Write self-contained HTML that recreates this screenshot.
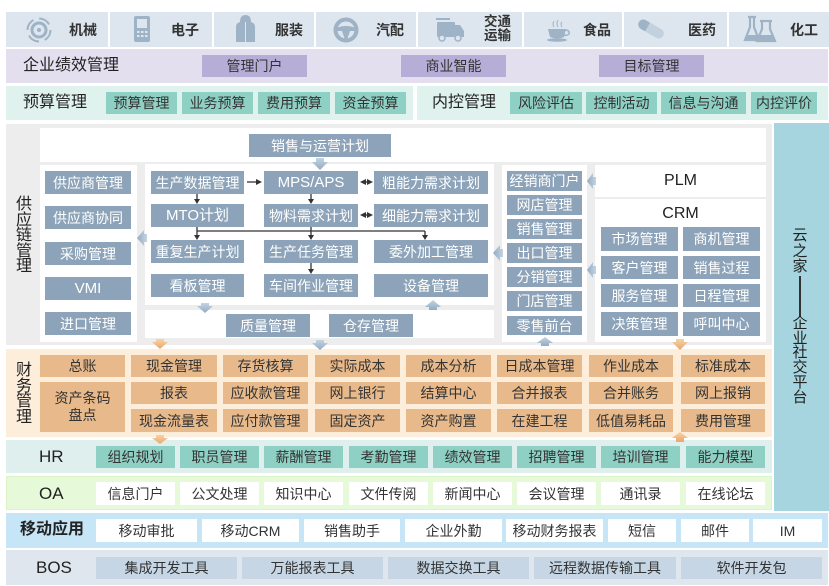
<!DOCTYPE html>
<html><head><meta charset="utf-8">
<style>
*{margin:0;padding:0;box-sizing:border-box}
html,body{width:829px;height:586px;background:#fff;overflow:hidden}
body{font-family:"Liberation Sans","Noto Sans CJK SC",sans-serif;color:#333;position:relative}
.a{position:absolute;display:flex;align-items:center;justify-content:center;white-space:nowrap;font-size:14px;line-height:1}
.r{position:absolute}
.s{background:#8ca3b9;color:#fff}
.o{background:#e8b98a;color:#333}
.t{background:#8fd0c4;color:#333}
.p{background:#b7aed7;color:#333}
.w{background:#fff;color:#333}
.g{background:#c6d6e4;color:#333}
.lb{position:absolute;font-size:16px;line-height:1;white-space:nowrap;color:#222}
.top{background:#dde6ee}
.tt{position:absolute;font-size:14px;font-weight:bold;line-height:1;color:#333;white-space:nowrap}
.v{position:absolute;font-size:16px;line-height:15.6px;text-align:center;width:18px;color:#222}
</style></head><body>

<!-- top row -->
<div class="r top" style="left:6px;top:12px;width:102px;height:35px"></div>
<div class="r top" style="left:110px;top:12px;width:102px;height:35px"></div>
<div class="r top" style="left:214px;top:12px;width:100px;height:35px"></div>
<div class="r top" style="left:316px;top:12px;width:100px;height:35px"></div>
<div class="r top" style="left:418px;top:12px;width:104px;height:35px"></div>
<div class="r top" style="left:524px;top:12px;width:98px;height:35px"></div>
<div class="r top" style="left:624px;top:12px;width:103px;height:35px"></div>
<div class="r top" style="left:729px;top:12px;width:100px;height:35px"></div>
<div class="tt" style="left:69px;top:23px">机械</div>
<div class="tt" style="left:171px;top:23px">电子</div>
<div class="tt" style="left:275px;top:23px">服装</div>
<div class="tt" style="left:376px;top:23px">汽配</div>
<div class="tt" style="left:484px;top:15px;line-height:14px;font-size:13.5px">交通<br>运输</div>
<div class="tt" style="left:583px;top:23px">食品</div>
<div class="tt" style="left:688px;top:23px">医药</div>
<div class="tt" style="left:790px;top:23px">化工</div>

<!-- row 2 -->
<div class="r" style="left:6px;top:49px;width:822px;height:34px;background:#e3dfee"></div>
<div class="lb" style="left:23px;top:58px">企业绩效管理</div>
<div class="a p" style="left:202px;top:55px;width:105px;height:22px">管理门户</div>
<div class="a p" style="left:401px;top:55px;width:105px;height:22px">商业智能</div>
<div class="a p" style="left:599px;top:55px;width:105px;height:22px">目标管理</div>

<!-- row 3 -->
<div class="r" style="left:6px;top:86px;width:407px;height:34px;background:#e0f2ee"></div>
<div class="r" style="left:417px;top:86px;width:411px;height:34px;background:#e0f2ee"></div>
<div class="lb" style="left:23px;top:95px">预算管理</div>
<div class="a t" style="left:106px;top:92px;width:71px;height:22px">预算管理</div>
<div class="a t" style="left:182px;top:92px;width:71px;height:22px">业务预算</div>
<div class="a t" style="left:258px;top:92px;width:72px;height:22px">费用预算</div>
<div class="a t" style="left:335px;top:92px;width:71px;height:22px">资金预算</div>
<div class="lb" style="left:432px;top:95px">内控管理</div>
<div class="a t" style="left:510px;top:92px;width:72px;height:22px">风险评估</div>
<div class="a t" style="left:586px;top:92px;width:71px;height:22px">控制活动</div>
<div class="a t" style="left:661px;top:92px;width:85px;height:22px">信息与沟通</div>
<div class="a t" style="left:751px;top:92px;width:66px;height:22px">内控评价</div>

<!-- supply chain -->
<div class="r" style="left:6px;top:124px;width:766px;height:221px;background:#ededed"></div>
<div class="v" style="left:15px;top:197px">供<br>应<br>链<br>管<br>理</div>
<div class="r" style="left:40px;top:128px;width:726px;height:34px;background:#fff"></div>
<div class="a s" style="left:249px;top:134px;width:142px;height:23px">销售与运营计划</div>

<div class="r" style="left:40px;top:165px;width:97px;height:177px;background:#fff"></div>
<div class="a s" style="left:45px;top:171px;width:86px;height:23px">供应商管理</div>
<div class="a s" style="left:45px;top:206px;width:86px;height:23px">供应商协同</div>
<div class="a s" style="left:45px;top:242px;width:86px;height:23px">采购管理</div>
<div class="a s" style="left:45px;top:277px;width:86px;height:23px;font-size:15px">VMI</div>
<div class="a s" style="left:45px;top:312px;width:86px;height:23px">进口管理</div>

<div class="r" style="left:145px;top:164px;width:349px;height:141px;background:#fff"></div>
<div class="a s" style="left:151px;top:171px;width:93px;height:23px">生产数据管理</div>
<div class="a s" style="left:264px;top:171px;width:94px;height:23px;font-size:15px">MPS/APS</div>
<div class="a s" style="left:374px;top:171px;width:114px;height:23px">粗能力需求计划</div>
<div class="a s" style="left:151px;top:204px;width:93px;height:23px;font-size:15px">MTO计划</div>
<div class="a s" style="left:264px;top:204px;width:94px;height:23px">物料需求计划</div>
<div class="a s" style="left:374px;top:204px;width:114px;height:23px">细能力需求计划</div>
<div class="a s" style="left:151px;top:240px;width:93px;height:23px">重复生产计划</div>
<div class="a s" style="left:264px;top:240px;width:94px;height:23px">生产任务管理</div>
<div class="a s" style="left:374px;top:240px;width:114px;height:23px">委外加工管理</div>
<div class="a s" style="left:151px;top:274px;width:93px;height:23px">看板管理</div>
<div class="a s" style="left:264px;top:274px;width:94px;height:23px">车间作业管理</div>
<div class="a s" style="left:374px;top:274px;width:114px;height:23px">设备管理</div>

<div class="r" style="left:145px;top:310px;width:349px;height:28px;background:#fff"></div>
<div class="a s" style="left:226px;top:314px;width:84px;height:23px">质量管理</div>
<div class="a s" style="left:329px;top:314px;width:84px;height:23px">仓存管理</div>

<div class="r" style="left:502px;top:165px;width:85px;height:177px;background:#fff"></div>
<div class="a s" style="left:507px;top:171px;width:75px;height:20px">经销商门户</div>
<div class="a s" style="left:507px;top:195px;width:75px;height:20px">网店管理</div>
<div class="a s" style="left:507px;top:219px;width:75px;height:20px">销售管理</div>
<div class="a s" style="left:507px;top:243px;width:75px;height:20px">出口管理</div>
<div class="a s" style="left:507px;top:267px;width:75px;height:20px">分销管理</div>
<div class="a s" style="left:507px;top:291px;width:75px;height:20px">门店管理</div>
<div class="a s" style="left:507px;top:316px;width:75px;height:19px">零售前台</div>

<div class="r" style="left:595px;top:165px;width:171px;height:32px;background:#fff"></div>
<div class="a" style="left:595px;top:165px;width:171px;height:32px;font-size:16px;color:#222">PLM</div>
<div class="r" style="left:595px;top:199px;width:171px;height:143px;background:#fff"></div>
<div class="a" style="left:595px;top:205px;width:171px;height:18px;font-size:16px;color:#222">CRM</div>
<div class="a s" style="left:601px;top:227px;width:77px;height:24px">市场管理</div>
<div class="a s" style="left:683px;top:227px;width:77px;height:24px">商机管理</div>
<div class="a s" style="left:601px;top:256px;width:77px;height:23px">客户管理</div>
<div class="a s" style="left:683px;top:256px;width:77px;height:23px">销售过程</div>
<div class="a s" style="left:601px;top:284px;width:77px;height:23px">服务管理</div>
<div class="a s" style="left:683px;top:284px;width:77px;height:23px">日程管理</div>
<div class="a s" style="left:601px;top:312px;width:77px;height:24px">决策管理</div>
<div class="a s" style="left:683px;top:312px;width:77px;height:24px">呼叫中心</div>

<!-- right panel -->
<div class="r" style="left:774px;top:123px;width:55px;height:388px;background:#a6d5df"></div>
<div class="r" style="left:792px;top:228px;width:16px;font-size:15px;line-height:15.7px;text-align:center;color:#222">云<br>之<br>家</div>
<div class="r" style="left:799px;top:276px;width:2px;height:41px;background:#333"></div>
<div class="r" style="left:792px;top:317px;width:16px;font-size:15px;line-height:14.7px;text-align:center;color:#222">企<br>业<br>社<br>交<br>平<br>台</div>

<!-- finance -->
<div class="r" style="left:6px;top:349px;width:766px;height:88px;background:#fdeedc"></div>
<div class="v" style="left:15px;top:363px">财<br>务<br>管<br>理</div>
<div class="a o" style="left:40px;top:355px;width:85px;height:22px">总账</div>
<div class="a o" style="left:40px;top:382px;width:85px;height:50px;white-space:normal;text-align:center;line-height:17px;padding:0 12px">资产条码<br>盘点</div>
<div class="a o" style="left:131px;top:355px;width:86px;height:22px">现金管理</div>
<div class="a o" style="left:131px;top:382px;width:86px;height:22px">报表</div>
<div class="a o" style="left:131px;top:409px;width:86px;height:23px">现金流量表</div>
<div class="a o" style="left:223px;top:355px;width:85px;height:22px">存货核算</div>
<div class="a o" style="left:223px;top:382px;width:85px;height:22px">应收款管理</div>
<div class="a o" style="left:223px;top:409px;width:85px;height:23px">应付款管理</div>
<div class="a o" style="left:315px;top:355px;width:85px;height:22px">实际成本</div>
<div class="a o" style="left:315px;top:382px;width:85px;height:22px">网上银行</div>
<div class="a o" style="left:315px;top:409px;width:85px;height:23px">固定资产</div>
<div class="a o" style="left:406px;top:355px;width:85px;height:22px">成本分析</div>
<div class="a o" style="left:406px;top:382px;width:85px;height:22px">结算中心</div>
<div class="a o" style="left:406px;top:409px;width:85px;height:23px">资产购置</div>
<div class="a o" style="left:497px;top:355px;width:85px;height:22px">日成本管理</div>
<div class="a o" style="left:497px;top:382px;width:85px;height:22px">合并报表</div>
<div class="a o" style="left:497px;top:409px;width:85px;height:23px">在建工程</div>
<div class="a o" style="left:589px;top:355px;width:84px;height:22px">作业成本</div>
<div class="a o" style="left:589px;top:382px;width:84px;height:22px">合并账务</div>
<div class="a o" style="left:589px;top:409px;width:84px;height:23px">低值易耗品</div>
<div class="a o" style="left:681px;top:355px;width:84px;height:22px">标准成本</div>
<div class="a o" style="left:681px;top:382px;width:84px;height:22px">网上报销</div>
<div class="a o" style="left:681px;top:409px;width:84px;height:23px">费用管理</div>

<!-- HR -->
<div class="r" style="left:6px;top:440px;width:766px;height:33px;background:#deefed"></div>
<div class="lb" style="left:39px;top:448px;font-size:17px">HR</div>
<div class="a t" style="left:96px;top:446px;width:79px;height:22px">组织规划</div>
<div class="a t" style="left:180px;top:446px;width:79px;height:22px">职员管理</div>
<div class="a t" style="left:264px;top:446px;width:79px;height:22px">薪酬管理</div>
<div class="a t" style="left:349px;top:446px;width:79px;height:22px">考勤管理</div>
<div class="a t" style="left:433px;top:446px;width:79px;height:22px">绩效管理</div>
<div class="a t" style="left:517px;top:446px;width:79px;height:22px">招聘管理</div>
<div class="a t" style="left:601px;top:446px;width:79px;height:22px">培训管理</div>
<div class="a t" style="left:686px;top:446px;width:79px;height:22px">能力模型</div>

<!-- OA -->
<div class="r" style="left:6px;top:476px;width:766px;height:34px;background:#e6f9d8;border:1px solid #dcf3c8"></div>
<div class="lb" style="left:39px;top:485px;font-size:17px">OA</div>
<div class="a w" style="left:96px;top:482px;width:79px;height:23px">信息门户</div>
<div class="a w" style="left:180px;top:482px;width:79px;height:23px">公文处理</div>
<div class="a w" style="left:264px;top:482px;width:79px;height:23px">知识中心</div>
<div class="a w" style="left:349px;top:482px;width:79px;height:23px">文件传阅</div>
<div class="a w" style="left:433px;top:482px;width:79px;height:23px">新闻中心</div>
<div class="a w" style="left:517px;top:482px;width:79px;height:23px">会议管理</div>
<div class="a w" style="left:601px;top:482px;width:79px;height:23px">通讯录</div>
<div class="a w" style="left:686px;top:482px;width:79px;height:23px">在线论坛</div>

<!-- mobile -->
<div class="r" style="left:6px;top:513px;width:822px;height:35px;background:#c6e5f6"></div>
<div class="lb" style="left:20px;top:522px;font-weight:bold">移动应用</div>
<div class="a w" style="left:96px;top:519px;width:101px;height:23px">移动审批</div>
<div class="a w" style="left:202px;top:519px;width:97px;height:23px">移动CRM</div>
<div class="a w" style="left:304px;top:519px;width:96px;height:23px">销售助手</div>
<div class="a w" style="left:405px;top:519px;width:97px;height:23px">企业外勤</div>
<div class="a w" style="left:506px;top:519px;width:97px;height:23px">移动财务报表</div>
<div class="a w" style="left:608px;top:519px;width:68px;height:23px">短信</div>
<div class="a w" style="left:681px;top:519px;width:68px;height:23px">邮件</div>
<div class="a w" style="left:753px;top:519px;width:69px;height:23px">IM</div>

<!-- BOS -->
<div class="r" style="left:6px;top:550px;width:822px;height:35px;background:#dfe6ee"></div>
<div class="lb" style="left:36px;top:559px;font-size:17px">BOS</div>
<div class="a g" style="left:96px;top:557px;width:141px;height:22px">集成开发工具</div>
<div class="a g" style="left:242px;top:557px;width:141px;height:22px">万能报表工具</div>
<div class="a g" style="left:388px;top:557px;width:141px;height:22px">数据交换工具</div>
<div class="a g" style="left:534px;top:557px;width:142px;height:22px">远程数据传输工具</div>
<div class="a g" style="left:681px;top:557px;width:141px;height:22px">软件开发包</div>

<svg class="r" style="left:0;top:0" width="829" height="586" viewBox="0 0 829 586">
<defs>
<linearGradient id="bl" x1="0" y1="0" x2="0" y2="1"><stop offset="0" stop-color="#c4d4e2"/><stop offset="1" stop-color="#93abc2"/></linearGradient>
<linearGradient id="blh" x1="0" y1="0" x2="1" y2="0"><stop offset="0" stop-color="#93abc2"/><stop offset="1" stop-color="#c4d4e2"/></linearGradient>
<linearGradient id="or" x1="0" y1="0" x2="0" y2="1"><stop offset="0" stop-color="#f6d2ab"/><stop offset="1" stop-color="#eaa866"/></linearGradient>
</defs>
<!-- icons -->
<g fill="#9fb3c6" stroke="none">
  <circle cx="39" cy="30" r="7" fill="none" stroke="#9fb3c6" stroke-width="3"/>
  <circle cx="39" cy="30" r="2"/>
  <circle cx="39" cy="30" r="11.5" fill="none" stroke="#9fb3c6" stroke-width="2" stroke-dasharray="12 6"/>
  <rect x="134" y="16" width="16" height="26" rx="2"/>
  <rect x="137" y="19" width="10" height="9" fill="#dde6ee"/>
  <g fill="#dde6ee"><rect x="137" y="31" width="2.5" height="2"/><rect x="141" y="31" width="2.5" height="2"/><rect x="145" y="31" width="2.5" height="2"/>
  <rect x="137" y="35" width="2.5" height="2"/><rect x="141" y="35" width="2.5" height="2"/><rect x="145" y="35" width="2.5" height="2"/></g>
  <path d="M236,42 L236,27 Q236,23 240,22 Q240,15 245.5,15 Q251,15 251,22 Q255,23 255,27 L255,42 Z"/>
  <path d="M245.5,22 L245.5,42" stroke="#dde6ee" stroke-width="1"/>
  <circle cx="346" cy="30" r="10.5" fill="none" stroke="#9fb3c6" stroke-width="4"/>
  <path d="M336,28 Q346,24 356,28 L356,31 L350,31 L347,40 L345,40 L342,31 L336,31 Z"/>
  <rect x="437" y="22" width="18" height="15" rx="1"/>
  <path d="M455,25 L460,25 L464,31 L464,37 L455,37 Z"/>
  <rect x="436" y="18" width="14" height="2"/>
  <circle cx="442" cy="38" r="3" fill="#dde6ee" stroke="#9fb3c6" stroke-width="1.5"/>
  <circle cx="458" cy="38" r="3" fill="#dde6ee" stroke="#9fb3c6" stroke-width="1.5"/>
  <path d="M548,29 L566,29 L564,37 Q557,40 550,37 Z"/>
  <path d="M565,30 Q570,30 569,34 Q567,36 564,35" fill="none" stroke="#9fb3c6" stroke-width="1.5"/>
  <ellipse cx="557" cy="40" rx="10" ry="1.8"/>
  <path d="M554,27 Q552,24 554,21 M558,27 Q556,24 558,20 M562,27 Q560,24 562,22" fill="none" stroke="#9fb3c6" stroke-width="1"/>
  <g transform="rotate(30 651 29)"><rect x="637" y="24" width="14" height="10" rx="5" fill="#9fb3c6"/><rect x="647" y="24" width="18" height="10" rx="5" fill="#c3d1de"/><rect x="647" y="24" width="6" height="10" fill="#c3d1de"/></g>
  <path d="M748,17 L756,17 M750,17 L750,27 L745,40 L759,40 L754,27 L754,17" fill="none" stroke="#9fb3c6" stroke-width="2.2"/>
  <path d="M760,21 L772,21 M762,21 L762,29 L757,41 L775,41 L770,29 L770,21" fill="none" stroke="#9fb3c6" stroke-width="2.2"/>
  <path d="M747,35 L757,35 L759,40 L745,40 Z M759,35 L773,35 L775,41 L757,41 Z"/>
</g>
<!-- connectors -->
<g stroke="#333" stroke-width="1.3" fill="none">
  <line x1="247" y1="182" x2="257" y2="182"/>
  <line x1="364" y1="182" x2="369" y2="182"/>
  <line x1="364" y1="215" x2="369" y2="215"/>
  <line x1="197" y1="194" x2="197" y2="200"/>
  <line x1="311" y1="194" x2="311" y2="200"/>
  <line x1="197" y1="231" x2="425" y2="231"/>
  <line x1="197" y1="227" x2="197" y2="236"/>
  <line x1="311" y1="227" x2="311" y2="236"/>
  <line x1="425" y1="231" x2="425" y2="236"/>
  <line x1="311" y1="263" x2="311" y2="270"/>
</g>
<g fill="#333">
  <polygon points="256,179 262,182 256,185"/>
  <polygon points="366,179 360,182 366,185"/><polygon points="367,179 373,182 367,185"/>
  <polygon points="366,212 360,215 366,218"/><polygon points="367,212 373,215 367,218"/>
  <polygon points="194,199 200,199 197,204"/>
  <polygon points="308,199 314,199 311,204"/>
  <polygon points="194,235 200,235 197,240"/>
  <polygon points="308,235 314,235 311,240"/>
  <polygon points="422,235 428,235 425,240"/>
  <polygon points="308,269 314,269 311,274"/>
</g>
<!-- chevrons -->
<g fill="url(#bl)">
  <polygon points="316,158 324,158 324,162 328,162 320,170 312,162 316,162"/>
  <polygon points="201,303 209,303 209,306 213,306 205,313 197,306 201,306"/>
  <polygon points="316,340 324,340 324,343 328,343 320,350 312,343 316,343"/>
  <polygon points="429,310 437,310 437,307 441,307 433,300 425,307 429,307"/>
  <polygon points="541,346 549,346 549,343 553,343 545,337 537,343 541,343"/>
</g>
<g fill="url(#blh)">
  <polygon points="147,234 147,242 144,242 144,246 137,238 144,230 144,234"/>
  <polygon points="503,249 503,257 500,257 500,261 493,253 500,245 500,249"/>
  <polygon points="596,177 596,185 593,185 593,189 587,181 593,173 593,177"/>
  <polygon points="596,266 596,274 593,274 593,278 587,270 593,262 593,266"/>
</g>
<g fill="url(#or)">
  <polygon points="156,339 164,339 164,342 168,342 160,349 152,342 156,342"/>
  <polygon points="676,339 684,339 684,342 688,342 680,350 672,342 676,342"/>
  <polygon points="156,435 164,435 164,438 168,438 160,444 152,438 156,438"/>
  <polygon points="676,442 684,442 684,438 688,438 680,432 672,438 676,438"/>
</g>
</svg>
</body></html>
